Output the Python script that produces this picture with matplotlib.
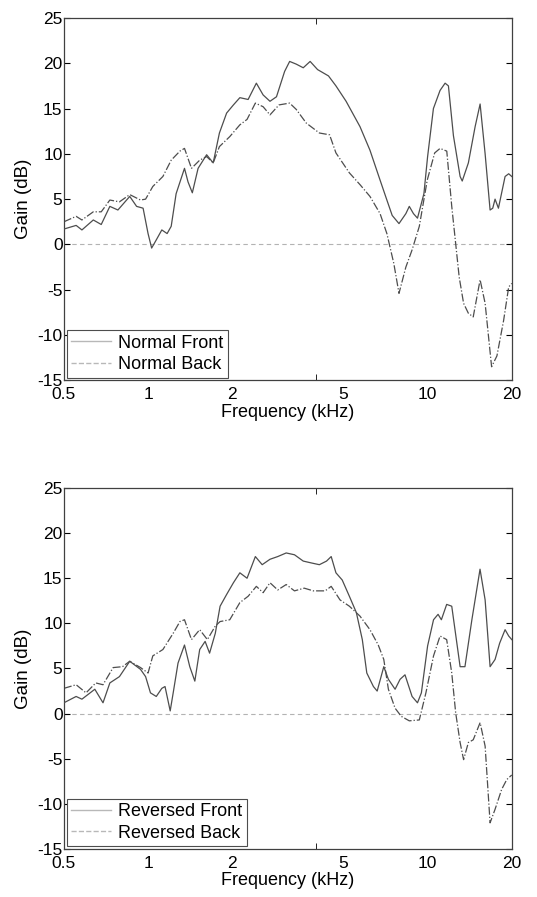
import matplotlib
matplotlib.use("Agg")
import matplotlib.pyplot as plt
from matplotlib.lines import Line2D
from matplotlib.ticker import FixedLocator, NullFormatter

plt.rcParams['font.family'] = ['Liberation Sans', 'DejaVu Sans']
plt.rcParams['font.size'] = 13
plt.rcParams['axes.unicode_minus'] = False

# top panel: normal orientation
normal_front_f = [0.5, 0.553, 0.58, 0.637, 0.68, 0.73, 0.78, 0.86, 0.91, 0.96, 1.0, 1.03, 1.07, 1.12,
                  1.17, 1.21, 1.26, 1.35, 1.39, 1.44, 1.51, 1.62, 1.71, 1.80, 1.91, 2.02, 2.13, 2.28,
                  2.44, 2.58, 2.73, 2.88, 3.08, 3.21, 3.39, 3.59, 3.80, 4.04, 4.42, 4.7, 5.11, 5.73,
                  6.22, 6.76, 7.15, 7.47, 7.90, 8.36, 8.6, 8.9, 9.2, 9.7, 10.0, 10.49, 11.08, 11.55,
                  11.87, 12.37, 13.07, 13.3, 13.99, 14.79, 15.41, 16.06, 16.73, 17.1, 17.43, 17.92,
                  18.93, 19.5, 20.0]
normal_front_g = [1.7, 2.1, 1.6, 2.7, 2.2, 4.2, 3.8, 5.3, 4.2, 4.0, 1.2, -0.4, 0.5, 1.6,
                  1.2, 2.0, 5.6, 8.4, 6.9, 5.7, 8.4, 9.9, 9.0, 12.3, 14.5, 15.4, 16.2, 16.0,
                  17.8, 16.5, 15.8, 16.3, 19.1, 20.2, 19.9, 19.5, 20.2, 19.3, 18.6, 17.5, 15.8, 13.0,
                  10.4, 7.1, 4.9, 3.2, 2.3, 3.4, 4.2, 3.4, 2.9, 5.6, 9.7, 15.0, 17.0, 17.8,
                  17.5, 12.0, 7.5, 7.0, 9.0, 13.0, 15.5, 10.0, 3.8, 4.0, 5.0, 4.0,
                  7.5, 7.8, 7.5]

normal_back_f = [0.5, 0.553, 0.58, 0.637, 0.68, 0.73, 0.79, 0.86, 0.94, 0.98, 1.04, 1.13, 1.21, 1.30,
                 1.35, 1.43, 1.53, 1.62, 1.71, 1.80, 1.96, 2.13, 2.26, 2.42, 2.58, 2.73, 2.94, 3.21,
                 3.39, 3.68, 4.1, 4.46, 4.7, 5.25, 5.73, 6.22, 6.76, 7.15, 7.57, 7.9, 8.36, 8.8,
                 9.34, 9.97, 10.6, 11.08, 11.71, 12.2, 12.6, 12.97, 13.45, 13.99, 14.56, 15.41,
                 16.06, 16.94, 17.7, 18.7, 19.5, 20.0]
normal_back_g = [2.5, 3.1, 2.7, 3.6, 3.6, 4.9, 4.7, 5.5, 4.9, 5.0, 6.4, 7.5, 9.3, 10.3,
                 10.6, 8.4, 9.3, 9.7, 9.0, 10.8, 11.9, 13.2, 13.8, 15.6, 15.2, 14.3, 15.4, 15.6,
                 14.9, 13.4, 12.3, 12.1, 10.1, 7.9, 6.6, 5.3, 3.4, 1.2, -2.1, -5.4, -2.5, -0.6,
                 2.0, 7.1, 10.1, 10.6, 10.3, 4.2, 0.1, -3.6, -6.5, -7.6, -8.0, -3.9,
                 -6.5, -13.5, -12.3, -8.4, -4.7, -4.3]

# bottom panel: reversed orientation
rev_front_f = [0.5, 0.553, 0.58, 0.645, 0.69, 0.73, 0.79, 0.86, 0.94, 0.98, 1.02, 1.07, 1.12, 1.15,
               1.20, 1.23, 1.28, 1.35, 1.41, 1.47, 1.53, 1.60, 1.66, 1.74, 1.81, 1.91, 2.02, 2.13,
               2.26, 2.42, 2.56, 2.73, 2.91, 3.12, 3.34, 3.59, 3.83, 4.1, 4.35, 4.52, 4.7, 4.95,
               5.25, 5.56, 5.84, 6.06, 6.4, 6.6, 6.97, 7.24, 7.65, 7.97, 8.3, 8.8, 9.2, 9.5,
               10.0, 10.5, 10.9, 11.2, 11.7, 12.2, 13.07, 13.6, 14.4, 15.4, 16.06, 16.73, 17.43,
               18.1, 18.93, 19.5, 20.0]
rev_front_g = [1.2, 1.9, 1.6, 2.7, 1.2, 3.4, 4.1, 5.8, 4.9, 4.1, 2.3, 1.9, 2.8, 3.0,
               0.3, 2.3, 5.6, 7.6, 5.2, 3.6, 7.1, 8.0, 6.7, 8.9, 11.9, 13.2, 14.5, 15.6,
               15.0, 17.4, 16.5, 17.1, 17.4, 17.8, 17.6, 16.9, 16.7, 16.5, 16.9, 17.4, 15.6, 14.8,
               13.0, 11.2, 8.2, 4.5, 3.0, 2.5, 5.2, 3.8, 2.7, 3.8, 4.3, 1.9, 1.2, 2.3,
               7.5, 10.4, 11.0, 10.4, 12.1, 11.9, 5.2, 5.2, 10.4, 16.0, 12.6, 5.2, 6.0,
               7.8, 9.3, 8.6, 8.2]

rev_back_f = [0.5, 0.553, 0.6, 0.65, 0.69, 0.75, 0.81, 0.86, 0.94, 1.0, 1.04, 1.13, 1.23, 1.30,
              1.35, 1.43, 1.53, 1.63, 1.74, 1.81, 1.96, 2.13, 2.28, 2.44, 2.58, 2.73, 2.91, 3.12,
              3.34, 3.62, 3.9, 4.3, 4.52, 4.86, 5.25, 5.73, 6.22, 6.66, 6.97, 7.24, 7.65, 8.05,
              8.6, 9.34, 9.86, 10.5, 11.08, 11.7, 12.2, 12.6, 13.07, 13.45, 13.99, 14.56, 15.41,
              16.06, 16.73, 17.43, 18.4, 19.2, 20.0]
rev_back_g = [2.8, 3.2, 2.3, 3.4, 3.2, 5.1, 5.2, 5.8, 5.1, 4.5, 6.4, 7.1, 8.9, 10.2,
              10.4, 8.2, 9.3, 8.2, 9.7, 10.2, 10.4, 12.3, 13.0, 14.1, 13.4, 14.5, 13.7, 14.3,
              13.6, 13.9, 13.6, 13.6, 14.1, 12.6, 11.9, 10.8, 9.3, 7.6, 6.0, 2.7, 0.6, -0.3,
              -0.8, -0.7, 2.3, 6.4, 8.6, 8.2, 4.5, 0.1, -3.2, -5.1, -3.2, -2.9, -1.0,
              -3.6, -12.1, -10.6, -8.4, -7.3, -6.8]

xticks = [0.5, 1, 2, 5, 10, 20]
xtick_labels = ['0.5', '1', '2', '5', '10', '20']
xtick_marks = [1, 2, 4, 10]
yticks = [-15, -10, -5, 0, 5, 10, 15, 20, 25]

panels = [
    ([0.119, 0.576, 0.834, 0.404], normal_front_f, normal_front_g, normal_back_f, normal_back_g,
     'Normal Front', 'Normal Back'),
    ([0.119, 0.0535, 0.834, 0.4025], rev_front_f, rev_front_g, rev_back_f, rev_back_g,
     'Reversed Front', 'Reversed Back'),
]

fig = plt.figure(figsize=(5.37, 8.97), dpi=100)

for rect, ff, fg, bf, bg, lab1, lab2 in panels:
    ax = fig.add_axes(rect)
    ax.axhline(0, color='0.7', lw=0.8, ls=(0, (4, 3)), zorder=1)
    ax.plot(bf, bg, color='0.3', lw=0.9, ls='-.', zorder=2)
    ax.plot(ff, fg, color='0.3', lw=0.9, zorder=3)
    ax.set_xscale('log')
    ax.set_xlim(0.5, 20)
    ax.set_ylim(-15, 25)
    ax.xaxis.set_major_locator(FixedLocator(xticks))
    ax.set_xticklabels(xtick_labels)
    ax.xaxis.set_minor_locator(FixedLocator(xtick_marks))
    ax.xaxis.set_minor_formatter(NullFormatter())
    ax.set_yticks(yticks)
    ax.tick_params(axis='x', which='major', length=0, pad=5, labelsize=12.5)
    ax.tick_params(axis='x', which='minor', direction='in', length=4, top=True, bottom=True)
    ax.tick_params(axis='y', direction='in', length=4, left=True, right=True, pad=1, labelsize=12.5)
    for s in ax.spines.values():
        s.set_linewidth(0.9)
        s.set_color('0.25')
    ax.set_xlabel('Frequency (kHz)', labelpad=1, fontsize=13)
    ax.set_ylabel('Gain (dB)', labelpad=4, fontsize=13.5)
    handles = [Line2D([], [], color='0.72', lw=1), Line2D([], [], color='0.72', lw=1, ls='--')]
    leg = ax.legend(handles, [lab1, lab2], loc='lower left', fancybox=False, framealpha=1,
                    edgecolor='0.3', borderaxespad=0.15, handlelength=2.2, handletextpad=0.4,
                    borderpad=0.25, labelspacing=0.25, fontsize=13)
    leg.get_frame().set_linewidth(0.8)

fig.savefig('out.png', dpi=100)
